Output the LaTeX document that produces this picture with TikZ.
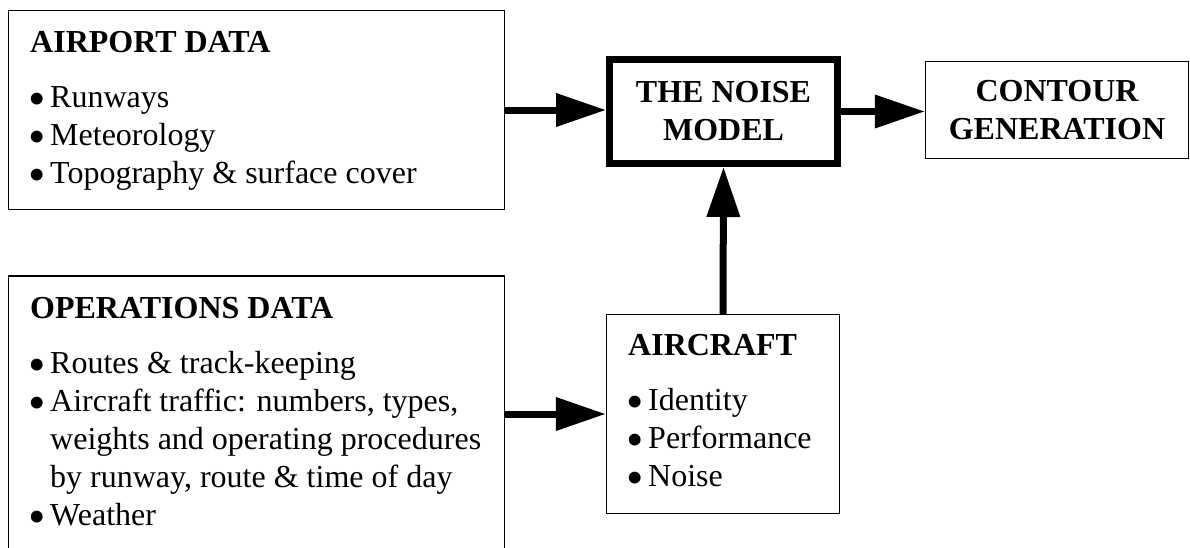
\documentclass[tikz,border=0pt]{standalone}
\usepackage{fontspec}
\setmainfont{Liberation Serif}
\usetikzlibrary{arrows.meta}
\tikzset{
  thinbox/.style={draw, line width=1.4pt, inner sep=0pt},
  heavybox/.style={draw, line width=7pt, inner sep=0pt},
  boxtitle/.style={align=center, font=\fontsize{32}{38}\selectfont\bfseries},
  txt/.style={anchor=base west, inner sep=0pt, font=\fontsize{32}{38}\selectfont},
  arr/.style={line width=7pt, -{Triangle[length=50pt 0 0, width=32pt 0 0]}},
}
\newcommand{\hd}[1]{\multicolumn{2}{@{}l@{}}{\bfseries #1}\\[17pt]}
\newcommand{\bul}{\makebox[16pt][l]{\hspace{-2pt}\raisebox{-8pt}[0pt][0pt]{\scalebox{1.55}{\textbullet}}}}
\begin{document}
\begin{tikzpicture}[x=1pt, y=-1pt]
\useasboundingbox (0,0) rectangle (1190,547);
% boxes
\node[thinbox, minimum width=496pt, minimum height=199pt] (airport) at (256.5,110) {};
\node[thinbox, minimum width=496pt, minimum height=294pt] (ops) at (256.5,423) {};
\node[heavybox, boxtitle, minimum width=228pt, minimum height=104pt] (noise) at (723.5,111.5) {THE NOISE\\MODEL};
\node[thinbox, boxtitle, minimum width=263pt, minimum height=97pt] (contour) at (1057,110) {CONTOUR\\GENERATION};
\node[thinbox, minimum width=233pt, minimum height=199pt] (aircraft) at (723,414) {};
% texts
\node[txt] (airporttxt) at (30,52) {\begin{tabular}[t]{@{}l@{\hspace{4pt}}l@{}}
\hd{AIRPORT DATA}
\bul & Runways\\
\bul & Meteorology\\
\bul & Topography \& surface cover
\end{tabular}};
\node[txt] (opstxt) at (30,318) {\begin{tabular}[t]{@{}l@{\hspace{4pt}}l@{}}
\hd{OPERATIONS DATA}
\bul & Routes \& track-keeping\\
\bul & Aircraft traffic: numbers, types,\\
 & weights and operating procedures\\
 & by runway, route \& time of day\\
\bul & Weather
\end{tabular}};
\node[txt] (aircrafttxt) at (628,355) {\begin{tabular}[t]{@{}l@{\hspace{4pt}}l@{}}
\hd{AIRCRAFT}
\bul & Identity\\
\bul & Performance\\
\bul & Noise
\end{tabular}};
% connectors
\draw[arr] (airport.east) -- (airport.east -| noise.west);
\draw[arr] (noise.east) -- (noise.east -| contour.west);
\draw[arr] (aircraft.north) -- (noise.south);
\draw[arr] (aircraft.west -| ops.east) -- (aircraft.west);
\end{tikzpicture}
\end{document}
